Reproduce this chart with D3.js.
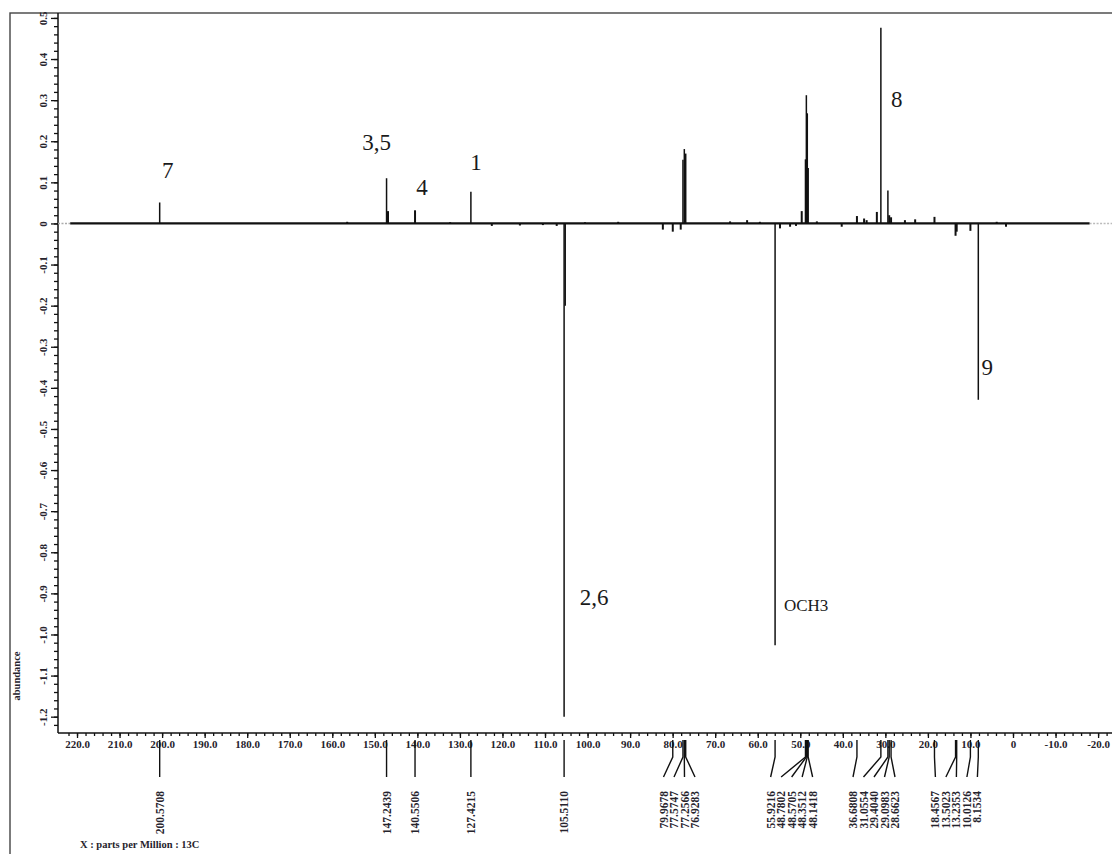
<!DOCTYPE html>
<html>
<head>
<meta charset="utf-8">
<script src="https://cdn.jsdelivr.net/npm/d3@7/dist/d3.min.js"></script>
<style>
  body { margin: 0; background: #fff; }
  svg { display: block; }
  text { font-family: "Liberation Serif", "Times New Roman", serif; }
</style>
</head>
<body>
<svg id="chart" width="1112" height="854"></svg>
<script>
// 13C spectrum (phase-edited): chemical shift in ppm and signed abundance of each line
const lineShifts = [
  200.5708, 156.5, 147.2439, 146.9, 140.5506, 132.3, 127.4215, 122.5, 115.9, 110.5,
  107.25, 105.5110, 105.25, 100.6, 92.8, 82.3, 79.9678, 78.1, 77.5747, 77.2566,
  76.9283, 66.5, 62.5, 59.5, 55.9216, 54.76, 52.4, 51.0, 49.66, 48.7802,
  48.5705, 48.3512, 48.1418, 46.1, 40.26, 36.6808, 35.0, 34.4, 32.0, 31.0554,
  29.4040, 29.0983, 28.6623, 25.4, 23.0, 18.4567, 13.5023, 13.2353, 10.0126, 8.1534,
  3.83, 1.64
];
const lineValues = [
  0.051, 0.004, 0.110, 0.030, 0.032, 0.003, 0.077, -0.006, -0.005, -0.004,
  -0.006, -1.200, -0.200, 0.003, 0.004, -0.015, -0.020, -0.015, 0.155, 0.181,
  0.170, 0.005, 0.008, 0.004, -1.026, -0.012, -0.008, -0.006, 0.030, 0.156,
  0.312, 0.268, 0.135, 0.005, -0.008, 0.018, 0.012, 0.008, 0.028, 0.476,
  0.080, 0.020, 0.015, 0.008, 0.010, 0.016, -0.030, -0.020, -0.018, -0.429,
  0.004, -0.008
];

// picked lines printed under the axis
const pickedShifts = [
  200.5708, 147.2439, 140.5506, 127.4215, 105.5110,
  79.9678, 77.5747, 77.2566, 76.9283,
  55.9216, 48.7802, 48.5705, 48.3512, 48.1418,
  36.6808, 31.0554, 29.4040, 29.0983, 28.6623,
  18.4567, 13.5023, 13.2353, 10.0126, 8.1534
];

// carbon assignments
const assignNames  = ["7", "3,5", "4", "1", "2,6", "OCH3", "8", "9"];
const assignShifts = [200.5708, 147.2439, 140.5506, 127.4215, 105.5110, 55.9216, 31.0554, 8.1534];

// axis ticks
const xTickValues = [220, 210, 200, 190, 180, 170, 160, 150, 140, 130, 120, 110, 100, 90, 80, 70, 60, 50, 40, 30, 20, 10, 0, -10, -20];
const xTickLabels = ["220.0", "210.0", "200.0", "190.0", "180.0", "170.0", "160.0", "150.0", "140.0", "130.0", "120.0", "110.0", "100.0", "90.0", "80.0", "70.0", "60.0", "50.0", "40.0", "30.0", "20.0", "10.0", "0", "-10.0", "-20.0"];
const yTickValues = [0.5, 0.4, 0.3, 0.2, 0.1, 0, -0.1, -0.2, -0.3, -0.4, -0.5, -0.6, -0.7, -0.8, -0.9, -1.0, -1.1, -1.2];
const yTickLabels = ["0.5", "0.4", "0.3", "0.2", "0.1", "0", "-0.1", "-0.2", "-0.3", "-0.4", "-0.5", "-0.6", "-0.7", "-0.8", "-0.9", "-1.0", "-1.1", "-1.2"];

const xTitle = "X : parts per Million : 13C";
const yTitle = "abundance";

// ---------- layout ----------
const svg = d3.select("#chart");
const frame = { left: 10, top: 13 };
const plot = { left: 58, top: 13, right: 1112, bottom: 733 };
const ink = "#111";
const labelInk = "#26232c";

const x = d3.scaleLinear().domain([224.47, -23.27]).range([plot.left, plot.right]);
const y = d3.scaleLinear().domain([0.512, -1.2397]).range([plot.top, plot.bottom]);

// outer frame (continues past the right and bottom edges)
svg.append("rect")
  .attr("x", frame.left).attr("y", frame.top)
  .attr("width", 1300).attr("height", 1000)
  .attr("fill", "none").attr("stroke", "#444").attr("stroke-width", 1.4);

// ---------- y axis ----------
const yMinor = d3.range(-1.22, 0.52, 0.02).map(v => +v.toFixed(2));
svg.append("g").attr("transform", `translate(${plot.left},0)`)
  .call(d3.axisLeft(y).tickValues(yMinor).tickSize(4).tickFormat(""))
  .call(g => g.select(".domain").remove());
const yMajor = svg.append("g").attr("transform", `translate(${plot.left},0)`)
  .call(d3.axisLeft(y).tickValues(yTickValues).tickSize(7)
    .tickFormat((d, i) => yTickLabels[i]));
yMajor.select(".domain").remove();
yMajor.selectAll(".tick text")
  .attr("x", 0).attr("y", 0).attr("dy", "0.35em")
  .attr("text-anchor", "middle")
  .attr("transform", "translate(-15,0) rotate(-90)")
  .style("font-size", "11px").style("font-weight", "bold")
  .attr("fill", labelInk);
svg.selectAll(".tick line").attr("stroke", ink).attr("stroke-width", 1.3);
svg.append("line")
  .attr("x1", plot.left).attr("x2", plot.left)
  .attr("y1", plot.top).attr("y2", plot.bottom)
  .attr("stroke", ink).attr("stroke-width", 1.5);

svg.append("text")
  .attr("transform", `translate(20,676) rotate(-90)`)
  .attr("text-anchor", "middle")
  .style("font-size", "10.5px").style("font-weight", "bold")
  .attr("fill", labelInk)
  .text(yTitle);

// ---------- x axis ----------
const xMinor = d3.range(-22, 224, 2);
svg.append("g").attr("transform", `translate(0,${plot.bottom})`)
  .call(d3.axisBottom(x).tickValues(xMinor).tickSize(3).tickFormat(""))
  .call(g => g.select(".domain").remove())
  .selectAll(".tick line").attr("stroke", ink).attr("stroke-width", 1.3);
const xMajor = svg.append("g").attr("transform", `translate(0,${plot.bottom})`)
  .call(d3.axisBottom(x).tickValues(xTickValues).tickSize(5)
    .tickFormat((d, i) => xTickLabels[i]));
xMajor.select(".domain").remove();
xMajor.selectAll(".tick line").attr("stroke", ink).attr("stroke-width", 1.3);
xMajor.selectAll(".tick text")
  .attr("y", 7).attr("dy", "0.71em")
  .style("font-size", "11px").style("font-weight", "bold")
  .attr("fill", labelInk);
svg.append("line")
  .attr("x1", plot.left).attr("x2", plot.right)
  .attr("y1", plot.bottom).attr("y2", plot.bottom)
  .attr("stroke", ink).attr("stroke-width", 1.5);

svg.append("text")
  .attr("x", 80).attr("y", 848)
  .style("font-size", "10.5px").style("font-weight", "bold")
  .attr("fill", labelInk)
  .text(xTitle);

// ---------- spectrum ----------
const baseline = d3.line().x(d => x(d[0])).y(d => y(d[1]));
// faint ends of the acquired window
svg.append("path")
  .attr("d", baseline([[224.47, 0], [221.6, 0]]))
  .attr("stroke", "#aaa").attr("stroke-width", 1.5).attr("stroke-dasharray", "2,1.5").attr("fill", "none");
svg.append("path")
  .attr("d", baseline([[-18.0, 0], [-23.27, 0]]))
  .attr("stroke", "#bbb").attr("stroke-width", 1.5).attr("stroke-dasharray", "2,1.5").attr("fill", "none");
svg.append("path")
  .attr("d", baseline([[221.6, 0], [-18.0, 0]]))
  .attr("stroke", ink).attr("stroke-width", 2.2).attr("fill", "none");

const lines = lineShifts.map((s, i) => ({ s, v: lineValues[i] }));
svg.append("g").selectAll("line").data(lines).join("line")
  .attr("x1", d => x(d.s)).attr("x2", d => x(d.s))
  .attr("y1", y(0)).attr("y2", d => y(d.v))
  .attr("stroke", ink)
  .attr("stroke-width", d => Math.abs(d.v) < 0.05 ? 2 : 1.5);

// ---------- assignment labels ----------
const valueAt = s => lines.find(l => l.s === s).v;
// offset of each label from the tip of its line, in pixels
const assignOffsets = [[8, -24], [-10, -28], [7, -15], [5, -22], [30, -112], [31, -34], [16, 79], [9, -25]];
const assignSizes = [23, 23, 23, 23, 23, 17, 23, 23];
svg.append("g").selectAll("text").data(assignNames).join("text")
  .attr("x", (d, i) => x(assignShifts[i]) + assignOffsets[i][0])
  .attr("y", (d, i) => y(valueAt(assignShifts[i])) + assignOffsets[i][1])
  .attr("text-anchor", "middle")
  .style("font-size", (d, i) => assignSizes[i] + "px")
  .attr("fill", "#1a1a1a")
  .text(d => d);

// ---------- picked-peak list below the axis ----------
const gap = 10.5;
const picks = pickedShifts.map(s => ({ s, px: x(s) })).sort((a, b) => a.px - b.px);
// group crowded labels and fan each group out, centred under the span of its lines
let groups = picks.map(p => ({ items: [p], lo: p.px, hi: p.px }));
const firstOf = g => (g.lo + g.hi) / 2 - (g.items.length - 1) / 2 * gap;
const lastOf = g => (g.lo + g.hi) / 2 + (g.items.length - 1) / 2 * gap;
let merged = true;
while (merged) {
  merged = false;
  for (let i = 0; i < groups.length - 1; i++) {
    const a = groups[i], b = groups[i + 1];
    if (lastOf(a) + 2 * gap > firstOf(b)) {
      groups.splice(i, 2, { items: a.items.concat(b.items), lo: a.lo, hi: b.hi });
      merged = true;
      break;
    }
  }
}
groups.forEach(g => g.items.forEach((p, k) => { p.lx = firstOf(g) + k * gap; }));

const markTop = 740, markKnee = 757, markEnd = 777, textTop = 791;
const pickG = svg.append("g");
pickG.selectAll("path").data(picks).join("path")
  .attr("d", d => d3.line()([[d.px, markTop], [d.px, markKnee], [d.lx, markEnd]]))
  .attr("fill", "none").attr("stroke", ink).attr("stroke-width", 1.4);
pickG.selectAll("text").data(picks).join("text")
  .attr("transform", d => `translate(${d.lx},${textTop}) rotate(-90)`)
  .attr("text-anchor", "end")
  .attr("dy", "0.35em")
  .style("font-size", "11.5px").style("font-weight", "bold")
  .attr("fill", labelInk)
  .text(d => d.s.toFixed(4));
</script>
</body>
</html>
